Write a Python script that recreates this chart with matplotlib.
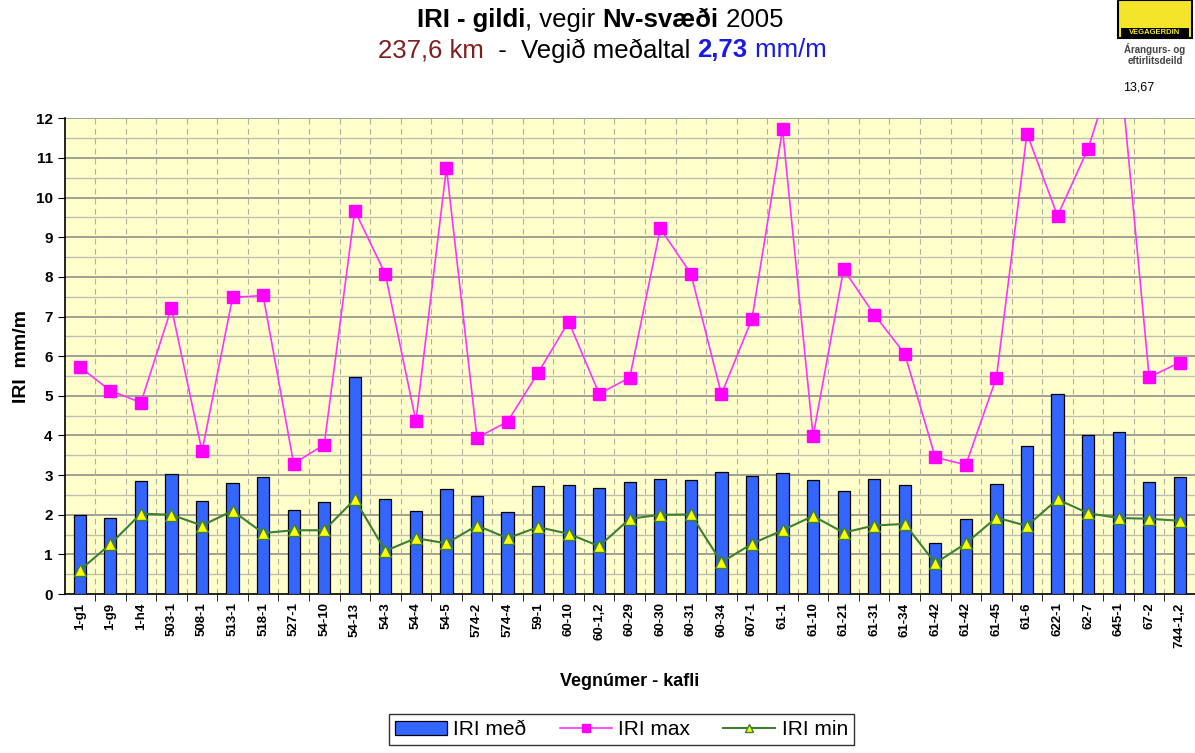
import numpy as np
import matplotlib.pyplot as plt
from matplotlib.patches import Rectangle

plt.rcParams['font.family'] = ['Liberation Sans', 'DejaVu Sans']

kaflar = ["1-g1", "1-g9", "1-h4", "503-1", "508-1", "513-1", "518-1", "527-1",
          "54-10", "54-13", "54-3", "54-4", "54-5", "574-2", "574-4", "59-1",
          "60-10", "60-1,2", "60-29", "60-30", "60-31", "60-34", "607-1", "61-1",
          "61-10", "61-21", "61-31", "61-34", "61-42", "61-42", "61-45", "61-6",
          "622-1", "62-7", "645-1", "67-2", "744-1,2"]

iri_med = [2.00, 1.93, 2.84, 3.04, 2.36, 2.81, 2.96, 2.13, 2.32, 5.47, 2.40, 2.10,
           2.64, 2.48, 2.07, 2.73, 2.75, 2.68, 2.83, 2.91, 2.88, 3.08, 2.99, 3.06,
           2.88, 2.60, 2.91, 2.75, 1.28, 1.89, 2.78, 3.74, 5.05, 4.02, 4.09, 2.83, 2.96]

iri_max = [5.73, 5.13, 4.83, 7.22, 3.60, 7.48, 7.53, 3.29, 3.77, 9.67, 8.07, 4.36,
           10.75, 3.94, 4.35, 5.58, 6.87, 5.05, 5.46, 9.22, 8.08, 5.04, 6.94, 11.72,
           3.98, 8.19, 7.05, 6.06, 3.45, 3.26, 5.46, 11.61, 9.54, 11.23, 13.67, 5.47, 5.84]

iri_min = [0.60, 1.26, 2.03, 2.00, 1.73, 2.10, 1.54, 1.61, 1.61, 2.39, 1.09, 1.41,
           1.28, 1.73, 1.41, 1.69, 1.52, 1.21, 1.90, 2.00, 2.01, 0.80, 1.27, 1.61,
           1.97, 1.55, 1.73, 1.77, 0.78, 1.28, 1.93, 1.72, 2.39, 2.04, 1.92, 1.90, 1.85]

x = np.arange(len(kaflar))

fig = plt.figure(figsize=(11.95, 7.53), dpi=100)
ax = fig.add_axes([0.054, 0.211, 0.946, 0.632])
ax.set_facecolor("#FFFFCC")

# gridlines
for yv in np.arange(0.5, 12.01, 0.5):
    if yv % 1 == 0:
        ax.axhline(yv, color="#9a9a90", lw=1.3, zorder=1)
    else:
        ax.axhline(yv, color="#c0c0b0", lw=1.0, zorder=1)
for xv in x[:-1] + 0.5:
    ax.axvline(xv, color="#b0b0a0", lw=0.8, ls=(0, (5, 4)), zorder=1)

b = ax.bar(x, iri_med, width=0.4, color="#3366FF", edgecolor="black", lw=0.9,
           zorder=3, label="IRI með")
lmax, = ax.plot(x, iri_max, color="#FF33FF", lw=1.2, marker="s", ms=8,
                markerfacecolor="#FF00FF", markeredgecolor="#FF00FF", zorder=4,
                label="IRI max")
lmin, = ax.plot(x, iri_min, color="#3C8030", lw=1.5, marker="^", ms=9,
                markerfacecolor="#FFFF00", markeredgecolor="#3C8030", zorder=5,
                label="IRI min")

ax.annotate("13,67", xy=(34.65, 12.78), ha="center", va="center",
            fontsize=9, annotation_clip=False)

ax.set_xlim(-0.5, len(kaflar) - 0.5)
ax.set_ylim(0, 12)
ax.set_yticks(range(13))
ax.set_yticklabels([str(i) for i in range(13)], fontsize=11, fontweight="bold")
ax.set_xticks(x)
ax.set_xticklabels(kaflar, rotation=90, fontsize=9.5, fontweight="bold")
ax.tick_params(axis="x", length=0, pad=6)
ax.set_xticks(x[:-1] + 0.5, minor=True)
ax.tick_params(axis="x", which="minor", length=5, direction="out")
ax.tick_params(axis="y", length=5, direction="out")
ax.spines["top"].set_visible(False)
ax.spines["right"].set_visible(False)
ax.spines["left"].set_linewidth(1.2)
ax.spines["bottom"].set_linewidth(1.2)

ax.set_ylabel("IRI  mm/m", fontsize=14, fontweight="bold", labelpad=4)
ax.set_xlabel("Vegnúmer - kafli", fontsize=13, fontweight="bold", labelpad=18)

leg = fig.legend([b, lmax, lmin], ["IRI með", "IRI max", "IRI min"],
                 loc="center", bbox_to_anchor=(0.52, 0.031),
                 ncol=3, fontsize=15, frameon=True, fancybox=False,
                 edgecolor="black", handlelength=2.5, columnspacing=1.6,
                 borderpad=0.3, handletextpad=0.3, markerscale=0.65,
                 borderaxespad=0.5)
leg.get_frame().set_linewidth(1.0)

# title, built from pieces with different colour/weight
fig.canvas.draw()
r = fig.canvas.get_renderer()


def row(parts, y, xc, size):
    texts = []
    for s, c, w in parts:
        texts.append(fig.text(0, y, s, va="center", fontsize=size, color=c, fontweight=w))
    widths = [t.get_window_extent(r).width for t in texts]
    xs = xc * fig.bbox.width - sum(widths) / 2
    for t, w in zip(texts, widths):
        t.set_x(xs / fig.bbox.width)
        xs += w


row([("IRI - gildi", "black", "bold"), (", vegir ", "black", "normal"),
     ("Nv-svæði", "black", "bold"), (" 2005", "black", "normal")], 0.973, 0.502, 18.5)
row([("237,6 km", "#7F1F1F", "normal"), ("  -  Vegið meðaltal ", "black", "normal"),
     ("2,73", "#1A1AE6", "bold"), (" mm/m", "#1A1AE6", "normal")], 0.933, 0.504, 18.5)

# logo
fig.patches.append(Rectangle((1118 / 1195, 1 - 38 / 753), 74 / 1195, 38 / 753,
                             transform=fig.transFigure, facecolor="#F5E52A",
                             edgecolor="black", lw=1.5))
fig.patches.append(Rectangle((1121 / 1195, 1 - 37 / 753), 68 / 1195, 9 / 753,
                             transform=fig.transFigure, facecolor="black"))
fig.text(1155 / 1195, 1 - 32.5 / 753, "VEGAGERDIN", ha="center", va="center",
         fontsize=5.5, color="#F5E52A", fontweight="bold")
fig.text(1155 / 1195, 1 - 49 / 753, "Árangurs- og", ha="center", va="center",
         fontsize=7, color="#444444", fontweight="bold")
fig.text(1155 / 1195, 1 - 61 / 753, "eftirlitsdeild", ha="center", va="center",
         fontsize=7, color="#444444", fontweight="bold")

fig.savefig("out.png", dpi=100)
